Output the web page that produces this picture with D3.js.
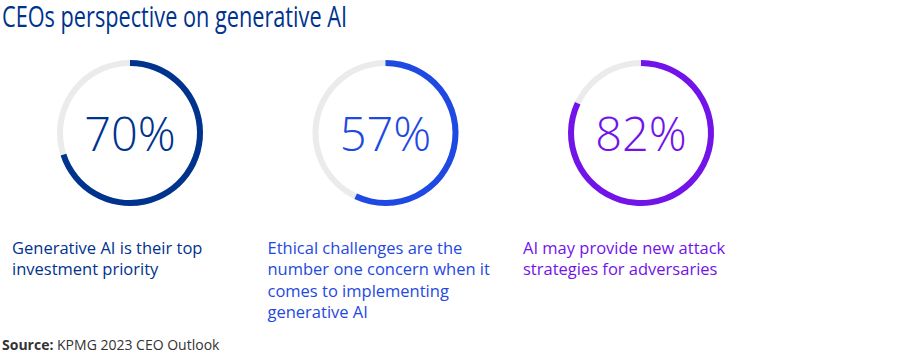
<!DOCTYPE html>
<html><head><meta charset="utf-8">
<script src="https://cdn.jsdelivr.net/npm/d3@7"></script>
<style>
html,body{margin:0;padding:0;background:#fff;}
svg{display:block;font-family:"Open Sans",sans-serif;}
</style></head>
<body><svg id="c" width="900" height="355"></svg>
<script>
const title = "CEOs perspective on generative AI";
const values = [70, 57, 82];
const labels = [
  ["Generative AI is their top", "investment priority"],
  ["Ethical challenges are the", "number one concern when it", "comes to implementing", "generative AI"],
  ["AI may provide new attack", "strategies for adversaries"]
];
const colors = ["#00338D", "#1E49E2", "#7213EA"];
const sourceLabel = "Source:";
const sourceText = " KPMG 2023 CEO Outlook";

const svg = d3.select("#c");
svg.append("text").attr("x", 2).attr("y", 27)
  .attr("font-size", 29).attr("fill", "#00338D")
  .attr("textLength", 345).attr("lengthAdjust", "spacingAndGlyphs")
  .text(title);

const x = d3.scalePoint().domain(d3.range(values.length)).range([130, 641]);
const ang = d3.scaleLinear().domain([0, 100]).range([0, 2 * Math.PI]);
const cy = 133, rOut = 73, rIn = 67;
const arc = d3.arc().innerRadius(rIn).outerRadius(rOut);

values.forEach((v, i) => {
  const g = svg.append("g").attr("transform", `translate(${x(i)},${cy})`);
  g.append("path").attr("d", arc({startAngle: 0, endAngle: 2 * Math.PI})).attr("fill", "#EBEBEB");
  g.append("path").attr("d", arc({startAngle: 0, endAngle: ang(v)})).attr("fill", colors[i]);
  g.append("text").attr("text-anchor", "middle").attr("y", 18)
    .attr("font-size", 47).attr("font-weight", 300).attr("fill", colors[i])
    .text(v + "%");
  const t = svg.append("text").attr("x", x(i) - 118).attr("y", 254)
    .attr("font-size", 16.5).attr("fill", colors[i]);
  labels[i].forEach((l, j) => t.append("tspan").attr("x", x(i) - 118).attr("dy", j ? 21.3 : 0).text(l));
});

const s = svg.append("text").attr("x", 2).attr("y", 350).attr("font-size", 14).attr("fill", "#333");
s.append("tspan").attr("font-weight", 700).text(sourceLabel);
s.append("tspan").text(sourceText);
</script></body></html>
